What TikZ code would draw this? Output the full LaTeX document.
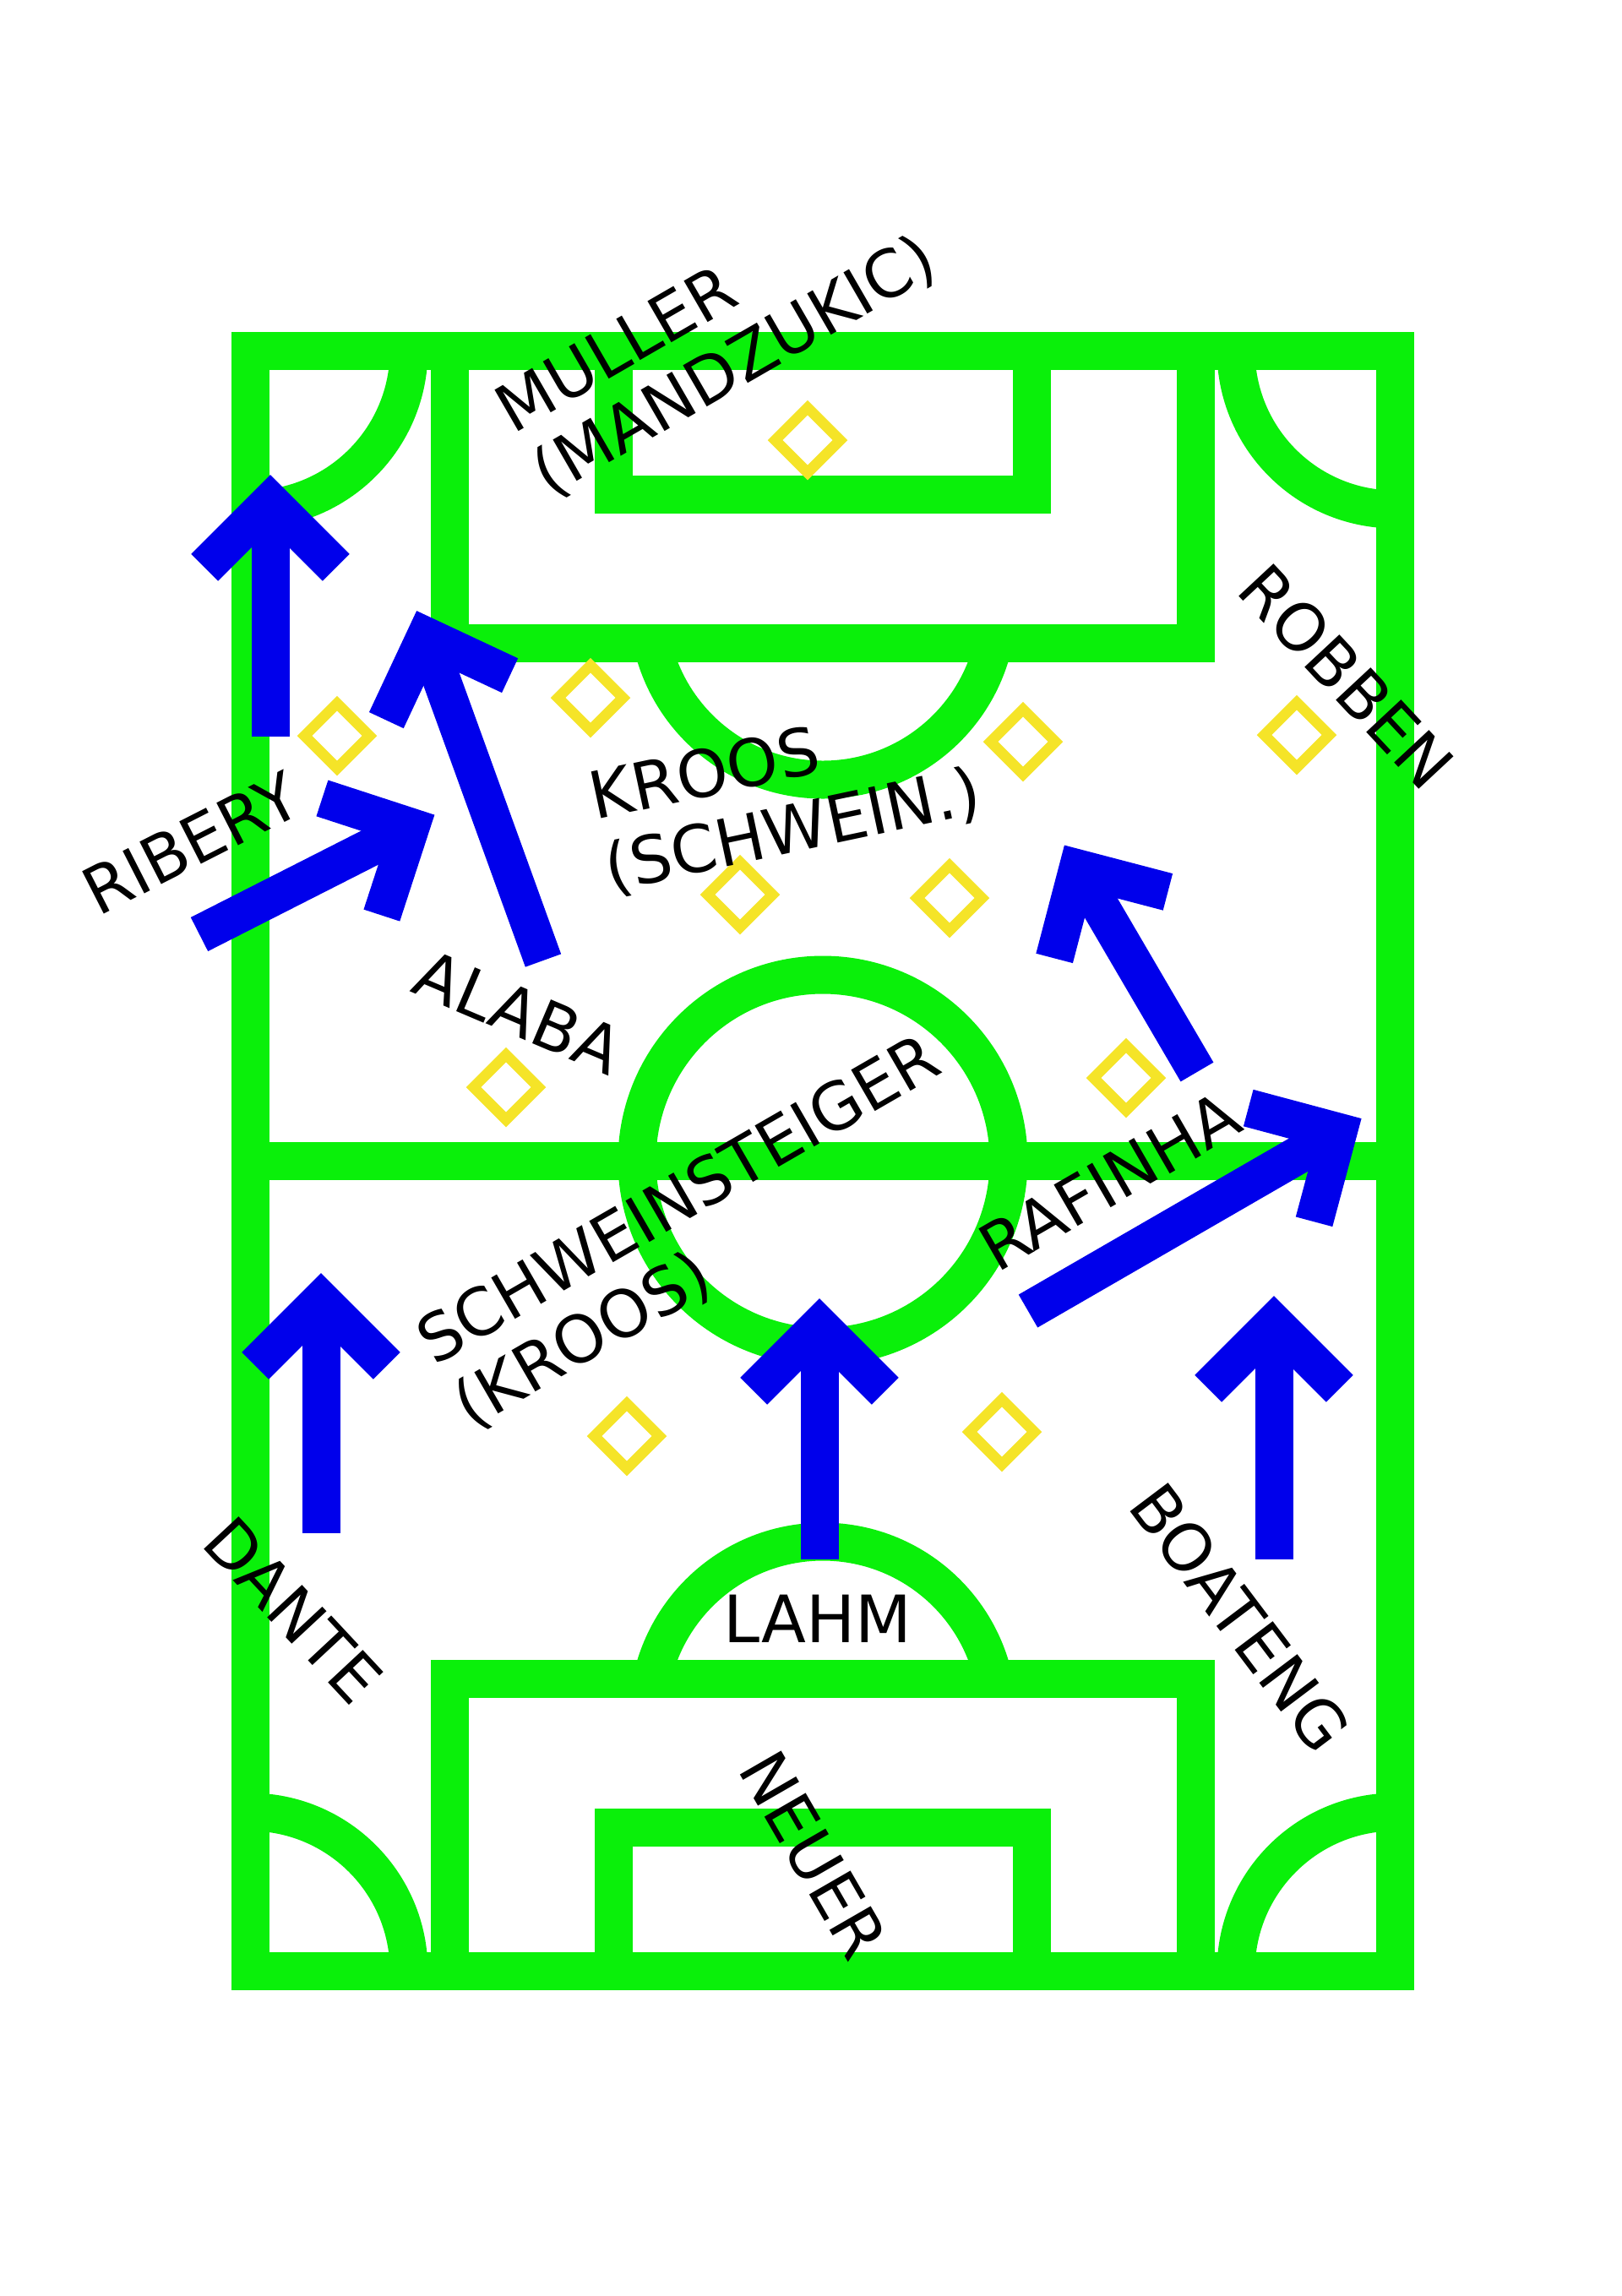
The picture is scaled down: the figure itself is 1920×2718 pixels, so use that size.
\documentclass[tikz,border=0pt]{standalone}
\usepackage{fontspec}
\setmainfont{DejaVu Sans}
\usetikzlibrary{calc,shapes.geometric}
\definecolor{pitchgreen}{RGB}{10,240,10}
\definecolor{runblue}{RGB}{0,0,235}
\definecolor{spotyellow}{RGB}{245,228,40}
\newcommand\moverun[2]{%
  \draw[run] (#1) -- (#2);
  \draw[run] ($(#2)!11mm!45:(#1)$) -- (#2) -- ($(#2)!11mm!-45:(#1)$);}
\begin{document}
\begin{tikzpicture}[x=0.1mm,y=-0.1mm,
  pline/.style={draw=pitchgreen,line width=4.5mm},
  run/.style={draw=runblue,line width=4.5mm},
  spotd/.style={draw=spotyellow,line width=1.25mm,shape=diamond,aspect=1,
    minimum width=8.2mm,minimum height=8.2mm,inner sep=0pt},
  lbl/.style={font=\fontsize{22}{24.6}\selectfont,align=left,inner sep=0pt,text=black}]
\fill[white] (0,0) rectangle (1920,2718);
\useasboundingbox (0,0) rectangle (1920,2718);
% pitch lines
\draw[pline] (296,415) rectangle (1651,2333);
\draw[pline] (296,1374) -- (1651,1374);
\draw[pline] (974,1374) circle[radius=220];
\draw[pline] (532,415) rectangle (1415,761);
\draw[pline] (726,415) rectangle (1221,585);
\draw[pline] (532,1987) rectangle (1415,2333);
\draw[pline] (726,2163) rectangle (1221,2333);
\begin{scope}
  \clip (296,415) rectangle (1651,2333);
  \draw[pline] (296,415) circle[radius=188];
  \draw[pline] (1651,415) circle[radius=188];
  \draw[pline] (296,2333) circle[radius=188];
  \draw[pline] (1651,2333) circle[radius=188];
\end{scope}
\begin{scope}
  \clip (0,761) rectangle (1920,1374);
  \draw[pline] (974,716) circle[radius=207];
\end{scope}
\begin{scope}
  \clip (0,1374) rectangle (1920,1987);
  \draw[pline] (974,2032) circle[radius=207];
\end{scope}
% player spots
\node[spotd] (s1) at (956,521) {};
\node[spotd] (s2) at (399,871) {};
\node[spotd] (s3) at (699,826) {};
\node[spotd] (s4) at (1211,878) {};
\node[spotd] (s5) at (1535,870) {};
\node[spotd] (s6) at (876,1059) {};
\node[spotd] (s7) at (1124,1063) {};
\node[spotd] (s8) at (599,1287) {};
\node[spotd] (s9) at (1333,1276) {};
\node[spotd] (s10) at (742,1700) {};
\node[spotd] (s11) at (1186,1695) {};
% runs
\coordinate (r1s) at (320,872);  \coordinate (r1t) at (320,594);
\coordinate (r2s) at (643,1137); \coordinate (r2t) at (504,753);
\coordinate (r3s) at (236,1106); \coordinate (r3t) at (486,979);
\coordinate (r4s) at (1417,1269);\coordinate (r4t) at (1276,1028);
\coordinate (r5s) at (1217,1552);\coordinate (r5t) at (1584,1340);
\coordinate (r6s) at (380,1815); \coordinate (r6t) at (380,1539);
\coordinate (r7s) at (970,1846); \coordinate (r7t) at (970,1569);
\coordinate (r8s) at (1508,1846);\coordinate (r8t) at (1508,1566);
\moverun{r1s}{r1t}
\moverun{r2s}{r2t}
\moverun{r3s}{r3t}
\moverun{r4s}{r4t}
\moverun{r5s}{r5t}
\moverun{r6s}{r6t}
\moverun{r7s}{r7t}
\moverun{r8s}{r8t}
% labels
\node[lbl,rotate=30] (muller) at (849,398) {MULLER\\(MANDZUKIC)};
\node[lbl,rotate=-47] (robben) at (1594,801) {ROBBEN};
\node[lbl,rotate=12] (kroos) at (930,943) {KROOS\\(SCHWEIN.)};
\node[lbl,rotate=27] (ribery) at (226,998) {RIBERY};
\node[lbl,rotate=-23] (alaba) at (614,1198) {ALABA};
\node[lbl,rotate=30] (schwein) at (826,1460) {SCHWEINSTEIGER\\(KROOS)};
\node[lbl,rotate=30] (rafinha) at (1313,1398) {RAFINHA};
\node[lbl,rotate=-47] (dante) at (347,1906) {DANTE};
\node[lbl] (lahm) at (968,1916) {LAHM};
\node[lbl,rotate=-53] (boateng) at (1468,1915) {BOATENG};
\node[lbl,rotate=-60] (neuer) at (963,2196) {NEUER};
\end{tikzpicture}
\end{document}
